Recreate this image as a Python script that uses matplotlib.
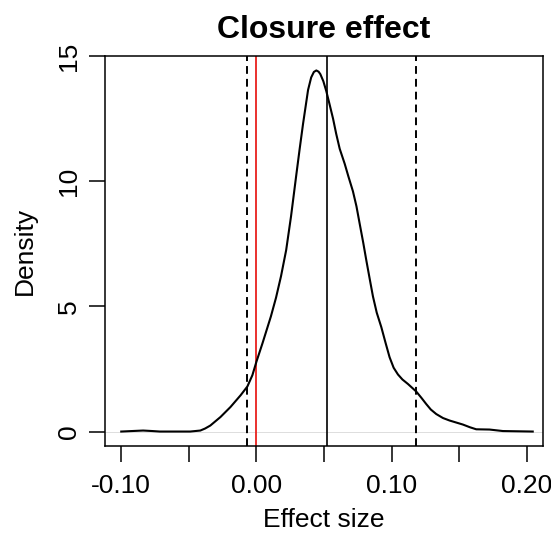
import matplotlib
matplotlib.use('Agg')
import matplotlib.pyplot as plt

plt.rcParams['font.family'] = ['Liberation Sans', 'DejaVu Sans']

# density estimate of the effect size
effect_x = [-0.1, -0.092, -0.0838, -0.077, -0.0714, -0.049, -0.0415, -0.038,
            -0.0341, -0.0266, -0.0192, -0.0117, -0.0067, -0.003, 0.0, 0.0045,
            0.0107, 0.0145, 0.0182, 0.022, 0.0256, 0.0296, 0.032, 0.0345,
            0.0382, 0.0405, 0.0425, 0.0443, 0.046, 0.0473, 0.0495, 0.0517,
            0.054, 0.0567, 0.059, 0.0616, 0.0653, 0.068, 0.0714, 0.074,
            0.0764, 0.079, 0.0813, 0.0838, 0.0862, 0.089, 0.0924, 0.0955,
            0.0985, 0.1015, 0.1047, 0.108, 0.1121, 0.1182, 0.122, 0.1256,
            0.129, 0.133, 0.138, 0.1429, 0.1527, 0.158, 0.1626, 0.1724,
            0.1823, 0.2044]
density_y = [0.0, 0.02, 0.04, 0.02, 0.0, 0.0, 0.04, 0.12,
             0.24, 0.58, 0.98, 1.45, 1.8, 2.25, 2.79, 3.53,
             4.6, 5.35, 6.21, 7.25, 8.6, 10.3, 11.3, 12.3,
             13.65, 14.15, 14.37, 14.43, 14.38, 14.28, 14.0, 13.6,
             13.1, 12.5, 11.9, 11.3, 10.7, 10.2, 9.6, 9.0,
             8.3, 7.55, 6.84, 6.1, 5.4, 4.75, 4.17, 3.55,
             2.97, 2.55, 2.28, 2.08, 1.9, 1.6, 1.35, 1.1,
             0.88, 0.7, 0.54, 0.44, 0.28, 0.17, 0.09, 0.08,
             0.02, 0.0]

ci_bounds = [-0.0067, 0.1182]   # dashed lines
mean_effect = 0.0522            # solid line
null_effect = 0.0               # red line

x_ticks = [-0.10, -0.05, 0.00, 0.05, 0.10, 0.15, 0.20]
x_labels = ['-0.10', '', '0.00', '', '0.10', '', '0.20']
y_ticks = [0, 5, 10, 15]

fig = plt.figure(figsize=(5.51, 5.40), dpi=100)
ax = fig.add_axes([0.1906, 0.1741, 0.7949, 0.7222])

# R style limits: data range padded by 4%
ax.set_xlim(-0.1 - 0.04 * 0.3, 0.2 + 0.04 * 0.3)
ymax = max(density_y)
ax.set_ylim(-0.04 * ymax, ymax * 1.04)

ax.axhline(0, color='#d8d8d8', lw=0.6, zorder=1)
ax.plot(effect_x, density_y, color='black', lw=1.5, zorder=3)
for b in ci_bounds:
    ax.axvline(b, color='black', lw=1.4, dashes=(4, 2.6), zorder=2)
ax.axvline(mean_effect, color='black', lw=1.2, zorder=2)
ax.axvline(null_effect, color='#e8201c', lw=1.3, zorder=2)

for s in ax.spines.values():
    s.set_linewidth(1.1)

ax.set_xticks(x_ticks)
ax.set_xticklabels(x_labels)
ax.set_yticks(y_ticks)
ax.set_yticklabels([str(t) for t in y_ticks], rotation=90, va='center')
ax.tick_params(axis='both', length=11.5, width=1.1, labelsize=19)
ax.tick_params(axis='x', pad=9)
ax.tick_params(axis='y', pad=6)

ax.set_xlabel('Effect size', fontsize=19, labelpad=7)
ax.set_ylabel('Density', fontsize=19, labelpad=14)
ax.set_title('Closure effect', fontsize=23, fontweight='bold', pad=13)

fig.savefig('out.png', dpi=100)
